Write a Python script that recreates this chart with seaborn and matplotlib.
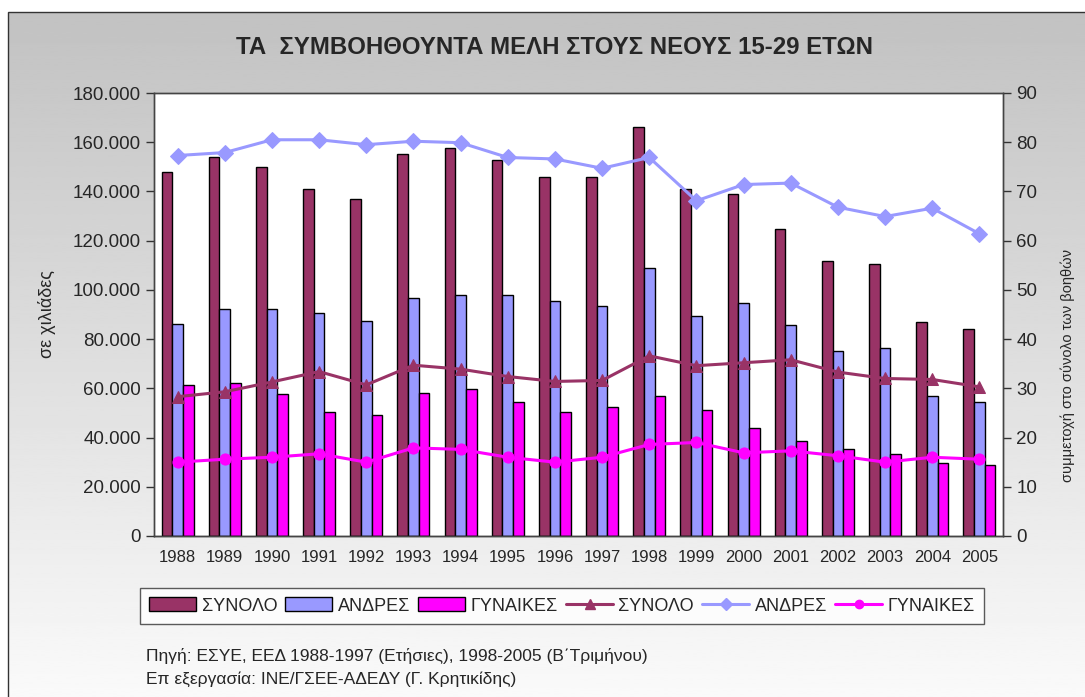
import numpy as np
import pandas as pd
import matplotlib
matplotlib.use("Agg")
import matplotlib.pyplot as plt
from matplotlib.patches import Patch, Rectangle
from matplotlib.lines import Line2D
from matplotlib.ticker import FuncFormatter
import seaborn as sns

# data
years = ["1988", "1989", "1990", "1991", "1992", "1993", "1994", "1995", "1996",
         "1997", "1998", "1999", "2000", "2001", "2002", "2003", "2004", "2005"]
synolo = [148000, 153900, 149900, 141000, 137000, 155200, 157800, 152700, 146000,
          146000, 166200, 141000, 139000, 124600, 111700, 110400, 86800, 84100]
andres = [86100, 92100, 92100, 90700, 87500, 96600, 97900, 97900, 95500,
          93500, 109000, 89500, 94800, 85700, 75200, 76400, 56900, 54300]
gynaikes = [61400, 62200, 57600, 50400, 49000, 58200, 59600, 54300, 50400,
            52400, 56900, 51100, 44000, 38700, 35500, 33400, 29700, 29000]

# share of all helping members (%) - right axis
pct_synolo = [28.3, 29.3, 31.3, 33.4, 30.7, 34.7, 33.9, 32.4, 31.4,
              31.6, 36.6, 34.6, 35.2, 35.8, 33.3, 32.0, 31.8, 30.3]
pct_andres = [77.3, 77.9, 80.5, 80.5, 79.5, 80.2, 79.9, 76.9, 76.6,
              74.7, 76.9, 68.1, 71.4, 71.7, 66.8, 64.9, 66.6, 61.4]
pct_gynaikes = [15.0, 15.6, 16.0, 16.7, 15.0, 17.9, 17.6, 16.0, 15.0,
                16.0, 18.6, 19.0, 16.9, 17.3, 16.3, 15.0, 16.0, 15.6]

series = ["ΣΥΝΟΛΟ", "ΑΝΔΡΕΣ", "ΓΥΝΑΙΚΕΣ"]
colors = ["#993366", "#9999FF", "#FF00FF"]

sns.set_style("white")
plt.rcParams["font.family"] = ["Liberation Sans", "DejaVu Sans"]

df = pd.DataFrame({
    "year": years * 3,
    "value": synolo + andres + gynaikes,
    "series": [s for s in series for _ in years],
})

fig = plt.figure(figsize=(10.85, 6.97), dpi=100)

# grey gradient background with a thin frame
bg = fig.add_axes([8 / 1085, 0, 1 - 8 / 1085, 1 - 12 / 697], zorder=-10)
grad = np.linspace(0.76, 0.98, 256).reshape(-1, 1)
bg.imshow(grad, aspect="auto", cmap="gray", vmin=0, vmax=1, extent=[0, 1, 1, 0])
bg.set_axis_off()
fig.add_artist(Rectangle((8 / 1085, -0.01), 1, 1 - 12 / 697 + 0.01,
                         transform=fig.transFigure, fill=False, edgecolor="#333333", lw=1))

ax = fig.add_axes([154 / 1085, 161 / 697, 849 / 1085, 443 / 697])
ax.set_facecolor("white")
sns.barplot(data=df, x="year", y="value", hue="series", palette=colors, width=0.68,
            edgecolor="black", linewidth=1, saturation=1, legend=False, ax=ax)

ax2 = ax.twinx()
pos = np.arange(len(years))
sns.lineplot(x=pos, y=pct_synolo, ax=ax2, color=colors[0], lw=2.2, marker="^",
             markersize=9, markeredgecolor=colors[0])
sns.lineplot(x=pos, y=pct_andres, ax=ax2, color=colors[1], lw=2.2, marker="D",
             markersize=8, markeredgecolor=colors[1])
sns.lineplot(x=pos, y=pct_gynaikes, ax=ax2, color=colors[2], lw=2.2, marker="o",
             markersize=8, markeredgecolor=colors[2])

ax.set_xlim(-0.5, len(years) - 0.5)
ax.set_ylim(0, 180000)
ax.set_yticks(np.arange(0, 180001, 20000))
ax.yaxis.set_major_formatter(FuncFormatter(lambda v, p: f"{int(v):,}".replace(",", ".")))
ax2.set_ylim(0, 90)
ax2.set_yticks(np.arange(0, 91, 10))

ax.set_xlabel("")
ax.set_ylabel("σε χιλιάδες", fontsize=13)
ax.yaxis.set_label_coords(-0.116, 0.5)
ax2.set_ylabel("συμμετοχή στο σύνολο των βοηθών", fontsize=10.5)
ax2.yaxis.set_label_coords(1.068, 0.384)

ax.set_xticks(np.arange(-0.5, len(years), 1), minor=True)
ax.tick_params(axis="x", which="major", length=0, labelsize=12, pad=10)
ax.tick_params(axis="x", which="minor", length=6, width=1, color="black", direction="out")
ax.tick_params(axis="y", length=6, width=1, color="#333333", direction="out",
               labelsize=13.5, left=True)
ax2.tick_params(axis="y", length=6, width=1, color="#333333", direction="out",
                labelsize=13.5, right=True)
for a in (ax, ax2):
    for sp in a.spines.values():
        sp.set_color("#444444")
        sp.set_linewidth(1)
ax.spines["bottom"].set_color("black")

fig.text(554 / 1085, 1 - 48 / 697, "ΤΑ  ΣΥΜΒΟΗΘΟΥΝΤΑ ΜΕΛΗ ΣΤΟΥΣ ΝΕΟΥΣ 15-29 ΕΤΩΝ",
         ha="center", va="center", fontsize=17.3, fontweight="bold")

handles = [Patch(facecolor=c, edgecolor="black", lw=1) for c in colors]
handles += [Line2D([], [], color=colors[0], lw=2.2, marker="^", markersize=7),
            Line2D([], [], color=colors[1], lw=2.2, marker="D", markersize=6),
            Line2D([], [], color=colors[2], lw=2.2, marker="o", markersize=6)]
leg = fig.legend(handles, series + series, loc="center", ncol=6,
                 bbox_to_anchor=(562 / 1085, 1 - 606 / 697), fontsize=13,
                 frameon=True, fancybox=False, edgecolor="#333333",
                 handlelength=2.6, handleheight=0.8, handletextpad=0.3,
                 columnspacing=0.45, borderpad=0.5)
leg.get_frame().set_linewidth(1)

fig.text(146 / 1085, 1 - 656 / 697, "Πηγή: ΕΣΥΕ, ΕΕΔ 1988-1997 (Ετήσιες), 1998-2005 (Β΄Τριμήνου)",
         ha="left", va="center", fontsize=12.5)
fig.text(146 / 1085, 1 - 679 / 697, "Επ εξεργασία: ΙΝΕ/ΓΣΕΕ-ΑΔΕΔΥ (Γ. Κρητικίδης)",
         ha="left", va="center", fontsize=12.5)

fig.savefig("out.png", dpi=100)
